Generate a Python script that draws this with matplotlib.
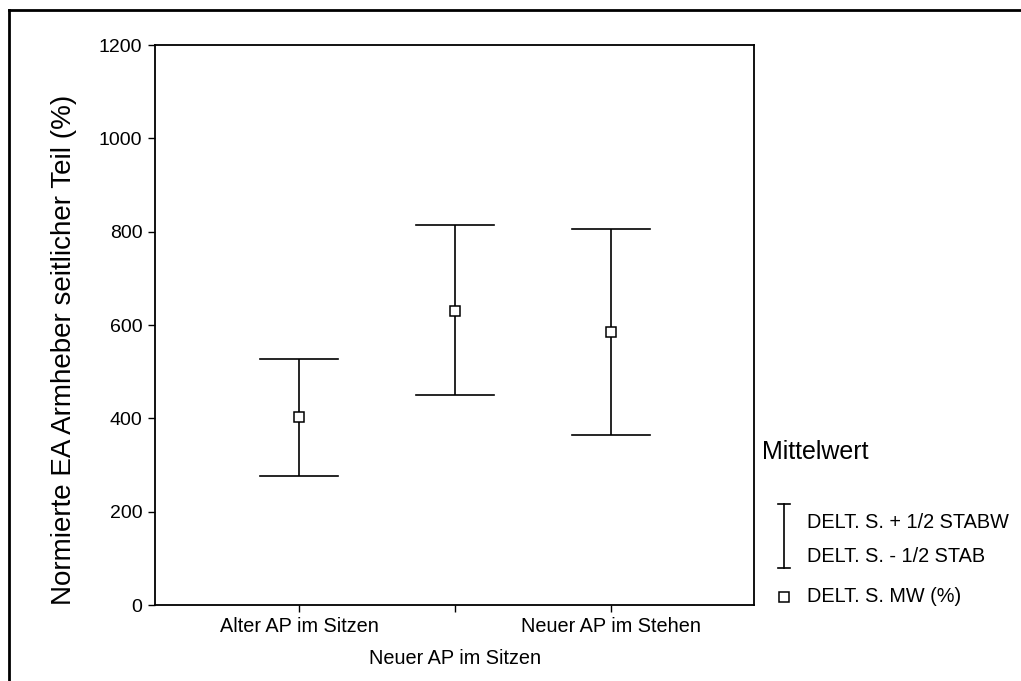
import matplotlib
matplotlib.use("Agg")
import matplotlib.pyplot as plt
from matplotlib.lines import Line2D
from matplotlib.transforms import ScaledTranslation

plt.rcParams['font.family'] = ['Liberation Sans', 'DejaVu Sans']

# Group labels and statistics
categories = ["Alter AP im Sitzen", "Neuer AP im Sitzen", "Neuer AP im Stehen"]
mean_vals = [403, 631, 586]
upper_vals = [528, 814, 805]   # mean + 1/2 SD
lower_vals = [276, 450, 364]   # mean - 1/2 SD
y_ticks = [0, 200, 400, 600, 800, 1000, 1200]

W, H, DPI = 1021, 681, 100
fig = plt.figure(figsize=(W / DPI, H / DPI), dpi=DPI)

def px(x0, y0, x1, y1):
    return [x0 / W, 1 - y1 / H, (x1 - x0) / W, (y1 - y0) / H]

ax = fig.add_axes(px(155, 45, 754, 605))

positions = list(range(1, len(categories) + 1))
cap = 0.25
for x, lo, hi, m in zip(positions, lower_vals, upper_vals, mean_vals):
    ax.plot([x, x], [lo, hi], color='black', lw=1.2, solid_capstyle='butt')
    ax.plot([x - cap, x + cap], [hi, hi], color='black', lw=1.2)
    ax.plot([x - cap, x + cap], [lo, lo], color='black', lw=1.2)
ax.plot(positions, mean_vals, ls='none', marker='s', ms=7.5,
        mfc='white', mec='black', mew=1.1, zorder=3)

ax.set_xlim(0.077, 3.917)
ax.set_ylim(0, 1200)
ax.set_yticks(y_ticks)
ax.set_yticklabels([str(v) for v in y_ticks], fontsize=14)
ax.set_xticks(positions)
ax.set_xticklabels(categories, fontsize=14.3)
ax.tick_params(axis='both', direction='out', length=5, width=1.0, color='black')
ax.tick_params(axis='y', pad=4)
ax.tick_params(axis='x', pad=4)
# middle category label sits on a second row
lbl = ax.get_xticklabels()[1]
lbl.set_transform(lbl.get_transform() + ScaledTranslation(0, -0.32, fig.dpi_scale_trans))

for s in ax.spines.values():
    s.set_linewidth(1.3)
    s.set_color('black')

fig.text(64 / W, 1 - 350 / H, "Normierte EA Armheber seitlicher Teil (%)",
         rotation=90, ha='center', va='center', fontsize=20)

# outer frame (top and left edges)
fig.add_artist(Line2D([9 / W, 9 / W], [0, 1 - 10 / H], transform=fig.transFigure,
                      color='black', lw=2))
fig.add_artist(Line2D([9 / W, 1], [1 - 10 / H, 1 - 10 / H], transform=fig.transFigure,
                      color='black', lw=2))

# legend block
fig.text(762 / W, 1 - 452 / H, "Mittelwert", ha='left', va='center', fontsize=18)
lx = 784 / W
fig.add_artist(Line2D([lx, lx], [1 - 504 / H, 1 - 568 / H], transform=fig.transFigure,
                      color='black', lw=1.2))
for yy in (504, 568):
    fig.add_artist(Line2D([lx - 6 / W, lx + 6 / W], [1 - yy / H, 1 - yy / H],
                          transform=fig.transFigure, color='black', lw=1.2))
fig.add_artist(Line2D([lx], [1 - 597 / H], transform=fig.transFigure, ls='none',
                      marker='s', ms=7, mfc='white', mec='black', mew=1.1))
fig.text(807 / W, 1 - 522 / H, "DELT. S. + 1/2 STABW", ha='left', va='center', fontsize=14.3)
fig.text(807 / W, 1 - 557 / H, "DELT. S. - 1/2 STAB", ha='left', va='center', fontsize=14.3)
fig.text(807 / W, 1 - 596 / H, "DELT. S. MW (%)", ha='left', va='center', fontsize=14.3)

fig.savefig("out.png", dpi=DPI)
